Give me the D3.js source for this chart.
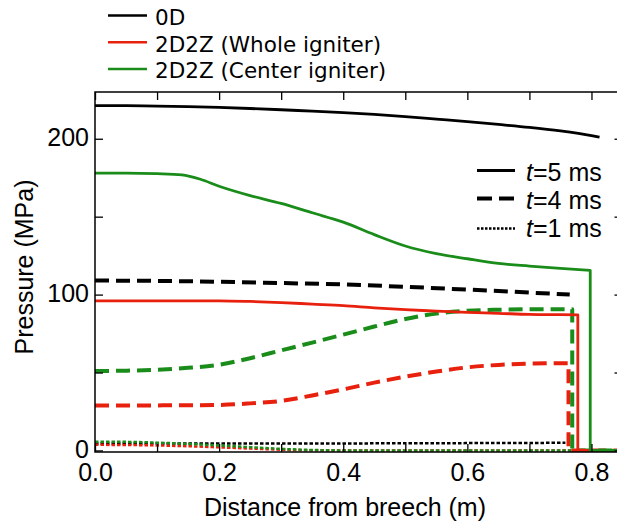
<!DOCTYPE html>
<html>
<head>
<meta charset="utf-8">
<script src="https://cdn.jsdelivr.net/npm/d3@7"></script>
<style>
  body { margin: 0; background: #fff; }
  svg { display: block; }
</style>
</head>
<body>
<svg id="chart" width="617" height="522"></svg>
<script>
// Pressure profiles along the barrel: [distance (m), pressure (MPa)]
const zeroD_t5 = [[0,221.3],[0.05,221.2],[0.1,221.0],[0.15,220.6],[0.2,220.1],[0.25,219.4],[0.3,218.6],[0.35,217.7],[0.4,216.8],[0.45,215.6],[0.5,214.2],[0.55,212.6],[0.6,211.0],[0.65,209.2],[0.7,207.3],[0.75,205.0],[0.8,202.0],[0.813,201.0]];
const zeroD_t4 = [[0,109.0],[0.1,108.8],[0.2,108.2],[0.3,107.4],[0.4,106.5],[0.5,105.0],[0.6,103.2],[0.7,101.3],[0.765,100.0]];
const zeroD_t1 = [[0,4.4],[0.2,4.4],[0.4,4.5],[0.6,4.7],[0.758,4.9]];

const whole_t5 = [[0,96.0],[0.1,96.0],[0.2,96.0],[0.25,95.6],[0.3,94.9],[0.35,93.9],[0.4,92.9],[0.45,91.5],[0.5,90.3],[0.55,89.4],[0.6,88.6],[0.65,88.0],[0.7,87.3],[0.75,87.1],[0.778,87.0],[0.778,0],[0.85,0]];
const whole_t4 = [[0,28.8],[0.1,28.9],[0.2,29.2],[0.25,30.2],[0.3,31.8],[0.35,35.3],[0.4,39.2],[0.45,43.5],[0.5,47.3],[0.55,50.6],[0.6,53.3],[0.65,54.9],[0.7,55.7],[0.763,56.0],[0.763,0],[0.85,0]];
const whole_t1 = [[0,3.6],[0.05,3.5],[0.1,3.2],[0.15,2.7],[0.2,2.0],[0.25,1.2],[0.3,0.5],[0.35,0.1],[0.4,0],[0.85,0]];

const center_t5 = [[0,178.0],[0.05,178.0],[0.1,177.6],[0.14,176.8],[0.17,174.0],[0.2,169.5],[0.25,163.5],[0.3,158.5],[0.35,152.5],[0.4,146.5],[0.45,138.5],[0.5,131.2],[0.55,126.3],[0.6,123.0],[0.65,120.0],[0.7,118.3],[0.75,116.8],[0.798,115.6],[0.798,0],[0.85,0]];
const center_t4 = [[0,51.0],[0.05,51.2],[0.1,51.8],[0.15,53.0],[0.2,55.0],[0.25,59.2],[0.3,64.2],[0.35,69.2],[0.4,74.3],[0.45,79.5],[0.5,84.3],[0.55,87.8],[0.6,89.6],[0.65,90.3],[0.7,90.6],[0.769,90.6],[0.769,0],[0.85,0]];
const center_t1 = [[0,5.6],[0.05,5.5],[0.1,5.0],[0.15,4.2],[0.2,3.2],[0.25,2.1],[0.3,1.0],[0.35,0.3],[0.4,0],[0.85,0]];

const modelNames = ["0D", "2D2Z (Whole igniter)", "2D2Z (Center igniter)"];
const timeNames = ["5", "4", "1"];
const xTickValues = [0,0.1,0.2,0.3,0.4,0.5,0.6,0.7,0.8];
const xTickLabels = ["0.0","","0.2","","0.4","","0.6","","0.8"];
const yTickValues = [0,50,100,150,200];
const yTickLabels = ["0","","100","","200"];

const colors = { zeroD: "#000000", whole: "#e8200e", center: "#1a8c1a" };
const styles = {
  t5: { dash: null, width: 2.8 },
  t4: { dash: "14,7", width: 4 },
  t1: { dash: "3.5,2", width: 2.5 }
};

const series = [
  { data: zeroD_t1, color: colors.zeroD, style: styles.t1 },
  { data: whole_t1, color: colors.whole, style: styles.t1 },
  { data: center_t1, color: colors.center, style: styles.t1 },
  { data: zeroD_t4, color: colors.zeroD, style: styles.t4 },
  { data: whole_t4, color: colors.whole, style: styles.t4 },
  { data: center_t4, color: colors.center, style: styles.t4 },
  { data: zeroD_t5, color: colors.zeroD, style: styles.t5 },
  { data: whole_t5, color: colors.whole, style: styles.t5 },
  { data: center_t5, color: colors.center, style: styles.t5 }
];

const svg = d3.select("#chart");
const font = "'Liberation Sans', Arial, Helvetica, sans-serif";

const plotL = 95, plotR = 622.5, plotT = 92, plotB = 452;
const x = d3.scaleLinear().domain([0, 0.85]).range([plotL, plotR]);
const y = d3.scaleLinear().domain([-1, 230]).range([plotB, plotT]);

svg.append("clipPath").attr("id", "plot")
  .append("rect").attr("x", plotL).attr("y", plotT).attr("width", plotR - plotL).attr("height", plotB - plotT);

// smooth profile up to the projectile base, then the sharp drop to zero ahead of it
const smoothLine = d3.line().x(d => x(d[0])).y(d => y(d[1])).curve(d3.curveMonotoneX);
function profilePath(data) {
  const k = data.findIndex((d, i) => i > 0 && d[0] === data[i - 1][0]);
  const smooth = k < 0 ? data : data.slice(0, k);
  let p = smoothLine(smooth);
  if (k >= 0) data.slice(k).forEach(d => { p += `L${x(d[0])},${y(d[1])}`; });
  return p;
}

const curves = svg.append("g").attr("clip-path", "url(#plot)");
series.forEach(s => {
  curves.append("path")
    .attr("d", profilePath(s.data))
    .attr("fill", "none")
    .attr("stroke", s.color)
    .attr("stroke-width", s.style.width)
    .attr("stroke-dasharray", s.style.dash)
    .attr("stroke-linejoin", "round");
});

// axes with inward ticks on all four sides
function styleAxis(g) {
  g.select(".domain").remove();
  g.selectAll(".tick line").attr("stroke", "#000").attr("stroke-width", 1.3);
}
const fmtX = (d, i) => xTickLabels[i];
const fmtY = (d, i) => yTickLabels[i];

const gx = svg.append("g").attr("transform", `translate(0,${plotB})`)
  .call(d3.axisBottom(x).tickValues(xTickValues).tickSize(-8).tickSizeOuter(0).tickFormat(fmtX));
styleAxis(gx);
gx.selectAll(".tick text").attr("y", 29).attr("dy", null)
  .attr("font-family", font).attr("font-size", 25).attr("fill", "#000");

const gxTop = svg.append("g").attr("transform", `translate(0,${plotT})`)
  .call(d3.axisTop(x).tickValues(xTickValues).tickSize(-8).tickSizeOuter(0).tickFormat(""));
styleAxis(gxTop);

const gy = svg.append("g").attr("transform", `translate(${plotL},0)`)
  .call(d3.axisLeft(y).tickValues(yTickValues).tickSize(-8).tickSizeOuter(0).tickFormat(fmtY));
styleAxis(gy);
gy.selectAll(".tick text").attr("x", -6).attr("dy", 7)
  .attr("font-family", font).attr("font-size", 25).attr("fill", "#000");

const gyRight = svg.append("g").attr("transform", `translate(${plotR},0)`)
  .call(d3.axisRight(y).tickValues(yTickValues).tickSize(-8).tickSizeOuter(0).tickFormat(""));
styleAxis(gyRight);

svg.append("rect")
  .attr("x", plotL).attr("y", plotT).attr("width", plotR - plotL).attr("height", plotB - plotT)
  .attr("fill", "none").attr("stroke", "#000").attr("stroke-width", 1.5);

// axis titles
svg.append("text")
  .attr("x", 345).attr("y", 516).attr("text-anchor", "middle")
  .attr("font-family", font).attr("font-size", 25).attr("fill", "#000")
  .text("Distance from breech (m)");
svg.append("text")
  .attr("transform", "translate(33,267) rotate(-90)").attr("text-anchor", "middle")
  .attr("font-family", font).attr("font-size", 25).attr("fill", "#000")
  .text("Pressure (MPa)");

// model legend (colours)
const modelColors = [colors.zeroD, colors.whole, colors.center];
const lg = svg.append("g");
modelNames.forEach((name, i) => {
  const by = 25 + i * 26.7;
  lg.append("line").attr("x1", 108).attr("x2", 147).attr("y1", by - 9.5).attr("y2", by - 9.5)
    .attr("stroke", modelColors[i]).attr("stroke-width", 2.5);
  lg.append("text").attr("x", 155).attr("y", by)
    .attr("font-family", "'DejaVu Sans', Verdana, sans-serif").attr("font-size", 21.5).attr("fill", "#000")
    .text(name);
});

// time legend (line styles)
const timeStyles = [styles.t5, styles.t4, styles.t1];
const tg = svg.append("g");
timeNames.forEach((tn, i) => {
  const by = 181 + i * 28;
  const ly = [170.5, 198.5, 228.5][i];
  tg.append("line").attr("x1", 477).attr("x2", 515).attr("y1", ly).attr("y2", ly)
    .attr("stroke", "#000").attr("stroke-width", timeStyles[i].width)
    .attr("stroke-dasharray", i === 2 ? "2.5,1.5" : (i === 1 ? "15,7" : null));
  const t = tg.append("text").attr("x", 526).attr("y", by)
    .attr("font-family", font).attr("font-size", 25).attr("fill", "#000");
  t.append("tspan").attr("font-style", "italic").text("t");
  t.append("tspan").text(`=${tn} ms`);
});
</script>
</body>
</html>
